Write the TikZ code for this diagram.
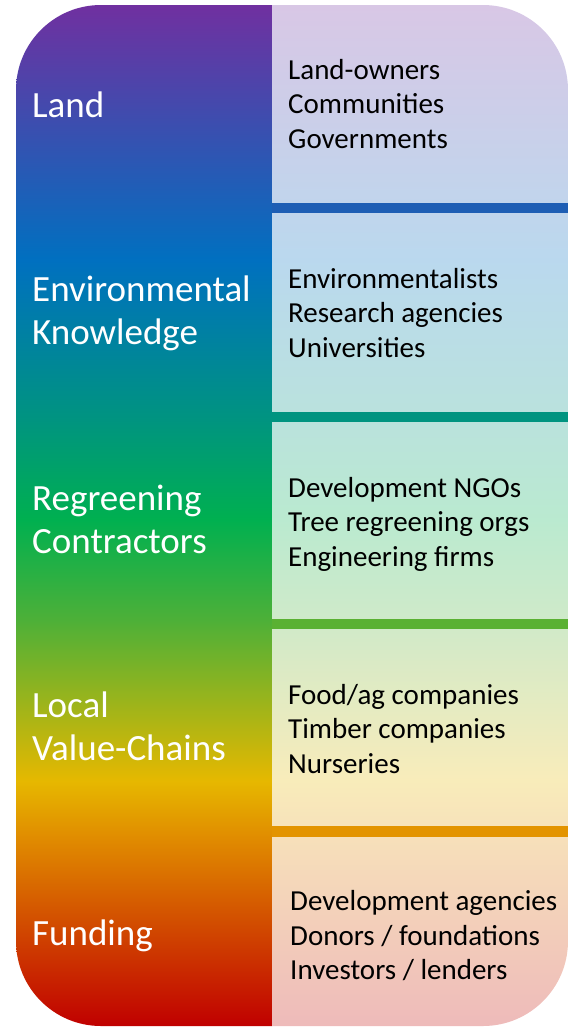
\documentclass[tikz,border=0pt]{standalone}
\usepackage{fontspec}
\setmainfont{Carlito}

\definecolor{cpurple}{HTML}{7030A0}
\definecolor{cblue}{HTML}{0070C0}
\definecolor{cteal}{HTML}{009480}
\definecolor{cgreen}{HTML}{00B050}
\definecolor{clime}{HTML}{4DB038}
\definecolor{cgold}{HTML}{E6B800}
\definecolor{corange}{HTML}{E08A00}
\definecolor{cred}{HTML}{C00000}
\colorlet{lpurple}{cpurple!27!white}
\colorlet{lblue}{cblue!27!white}
\colorlet{lteal}{cteal!27!white}
\colorlet{lgreen}{cgreen!27!white}
\colorlet{llime}{clime!27!white}
\colorlet{lgold}{cgold!27!white}
\colorlet{lorange}{corange!27!white}
\colorlet{lred}{cred!27!white}
\definecolor{barblue}{HTML}{1E5EB4}
\definecolor{barteal}{HTML}{009480}
\definecolor{bargreen}{HTML}{5AB133}
\definecolor{barorange}{HTML}{E39400}

\pgfdeclareverticalshading{spectrum}{100bp}{color(0bp)=(cred); color(25bp)=(cred);
  color(34.1bp)=(corange); color(37bp)=(cgold); color(44.9bp)=(clime);
  color(49.8bp)=(cgreen); color(54.7bp)=(cteal); color(62.5bp)=(cblue);
  color(75bp)=(cpurple); color(100bp)=(cpurple)}
\pgfdeclareverticalshading{spectrumlight}{100bp}{color(0bp)=(lred); color(25bp)=(lred);
  color(34.1bp)=(lorange); color(37bp)=(lgold); color(44.9bp)=(llime);
  color(49.8bp)=(lgreen); color(54.7bp)=(lteal); color(62.5bp)=(lblue);
  color(75bp)=(lpurple); color(100bp)=(lpurple)}

\tikzset{
  grp/.style={anchor=west,text=white,align=left,inner sep=0pt,
    font=\fontsize{37}{43}\selectfont},
  who/.style={anchor=west,text=black,align=left,inner sep=0pt,
    font=\fontsize{29}{34.5}\selectfont},
  bar/.style={fill=#1}
}

\begin{document}
\begin{tikzpicture}[x=1pt,y=-1pt]
  \useasboundingbox (0,0) rectangle (573,1028);

  \begin{scope}
    \clip[rounded corners=85pt] (16,5) rectangle (568,1026);
    \shade[shading=spectrum] (16,5) rectangle (272,1026);
    \shade[shading=spectrumlight] (272,5) rectangle (568,1026);
    \fill[bar=barblue] (272,203) rectangle (568,213);
    \fill[bar=barteal] (272,412) rectangle (568,422);
    \fill[bar=bargreen] (272,619) rectangle (568,629);
    \fill[bar=barorange] (272,826) rectangle (568,837);
  \end{scope}

  % groups
  \node[grp] (land) at (32,105) {Land};
  \node[grp] (envk) at (32,313) {Environmental\\Knowledge};
  \node[grp] (regr) at (32,519) {Regreening\\Contractors};
  \node[grp] (lvc) at (32,726) {Local\\Value-Chains};
  \node[grp] (fund) at (32,936) {Funding};

  % actors
  \node[who] (landwho) at (288,104) {Land-owners\\Communities\\Governments};
  \node[who] (envkwho) at (288,313) {Environmentalists\\Research agencies\\Universities};
  \node[who] (regrwho) at (288,524) {Development NGOs\\Tree regreening orgs\\Engineering firms};
  \node[who] (lvcwho) at (288,729) {Food/ag companies\\Timber companies\\Nurseries};
  \node[who] (fundwho) at (290,936) {Development agencies\\Donors / foundations\\Investors / lenders};
\end{tikzpicture}
\end{document}
